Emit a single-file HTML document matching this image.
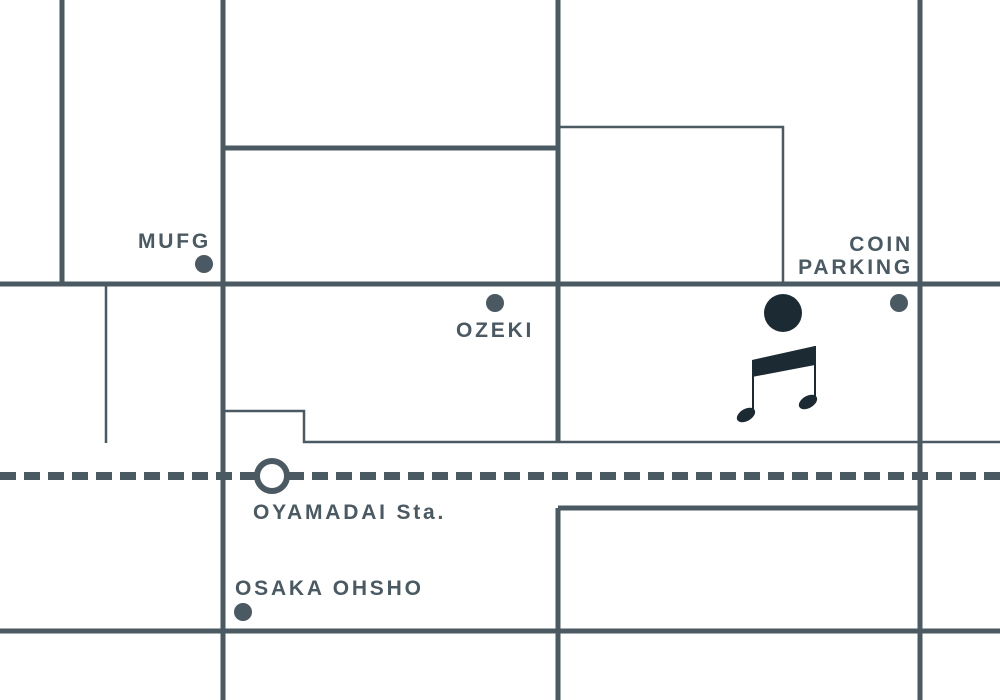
<!DOCTYPE html>
<html><head><style>body{margin:0;background:#fff}svg{display:block}</style></head><body>
<svg width="1000" height="700" xmlns="http://www.w3.org/2000/svg">
<g stroke="#4a5962" fill="none">
<g stroke-width="5">
<line x1="62" y1="0" x2="62" y2="284"/>
<line x1="223" y1="0" x2="223" y2="700"/>
<line x1="558" y1="0" x2="558" y2="443"/>
<line x1="558" y1="508" x2="558" y2="700"/>
<line x1="920" y1="0" x2="920" y2="700"/>
<line x1="0" y1="284" x2="1000" y2="284"/>
<line x1="0" y1="631" x2="1000" y2="631"/>
<line x1="223" y1="148" x2="558" y2="148"/>
<line x1="558" y1="508" x2="920" y2="508"/>
</g>
<g stroke-width="2.5">
<line x1="106" y1="284" x2="106" y2="443"/>
<polyline points="223,411 304,411 304,442 1000,442"/>
<polyline points="558,127 783,127 783,284"/>
</g>
<line x1="0" y1="476" x2="1000" y2="476" stroke-width="8" stroke-dasharray="16 8"/>
<circle cx="272" cy="476" r="15" stroke-width="6" fill="#fff"/>
</g>
<g fill="#4a5962">
<circle cx="204" cy="264" r="9"/>
<circle cx="495" cy="303" r="9"/>
<circle cx="899" cy="303" r="9"/>
<circle cx="243" cy="612" r="9"/>
</g>
<g fill="#1c2b33">
<circle cx="783" cy="313" r="19"/>
<polygon points="752,360 815,346 815,365 752,377"/>
<rect x="752" y="360" width="2" height="52"/>
<rect x="814" y="346" width="2" height="52"/>
<ellipse cx="746" cy="415" rx="10" ry="6" transform="rotate(-30 746 415)"/>
<ellipse cx="808" cy="402" rx="10" ry="6" transform="rotate(-30 808 402)"/>
</g>
<g font-family="Liberation Sans, sans-serif" font-weight="bold" font-size="21" fill="#4a5962" letter-spacing="2.8">
<text x="138" y="248">MUFG</text>
<text x="456" y="337">OZEKI</text>
<text x="913" y="251" text-anchor="end">COIN</text>
<text x="913" y="274" text-anchor="end">PARKING</text>
<text x="253" y="519">OYAMADAI Sta.</text>
<text x="235" y="595">OSAKA OHSHO</text>
</g>
</svg>
</body></html>
